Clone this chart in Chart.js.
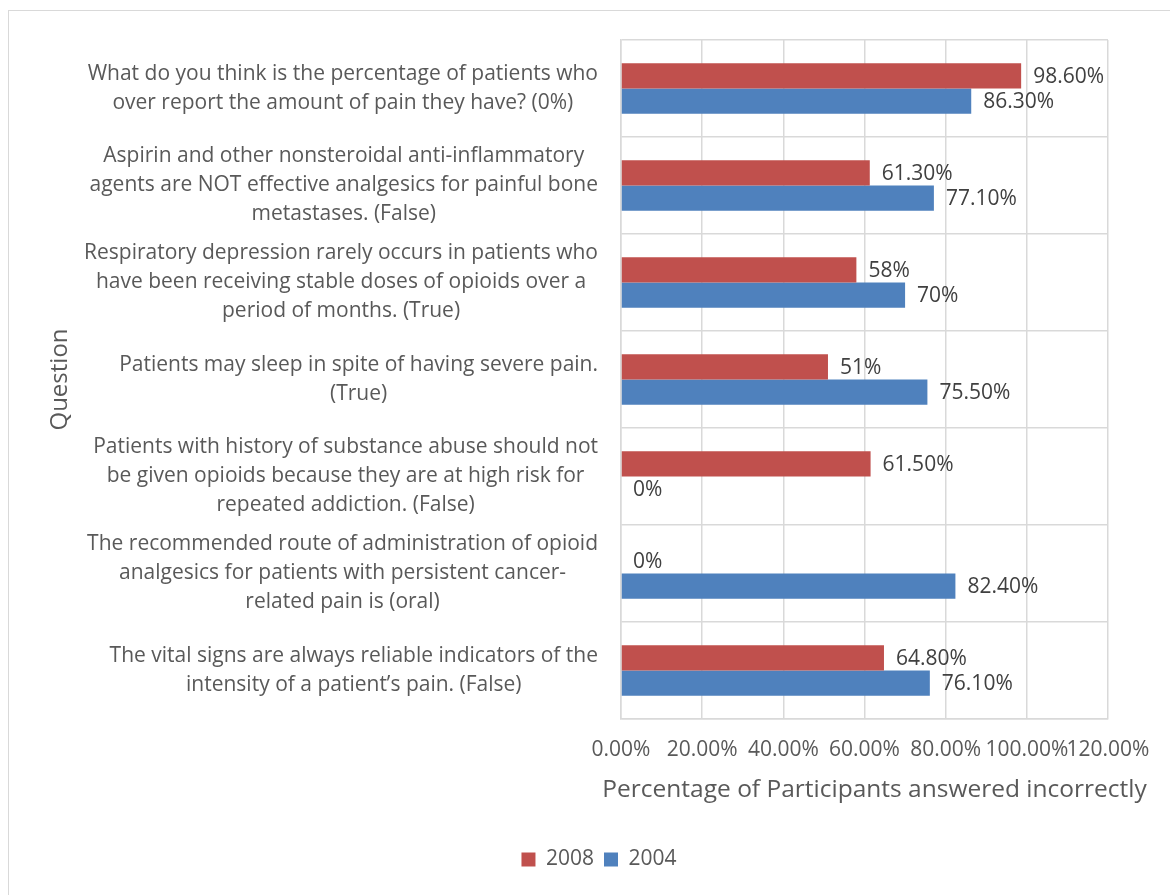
<!DOCTYPE html>
<html>
<head>
<meta charset="utf-8">
<script src="https://cdn.jsdelivr.net/npm/chart.js@4"></script>
<style>
  body { margin: 0; background: #fff; }
  #frame { position: absolute; left: 8px; top: 10px; width: 1170px; height: 895px; border: 1px solid #d9d9d9; }
  #chart { position: absolute; left: 0; top: 0; }
</style>
</head>
<body>
<div id="frame"></div>
<canvas id="chart" width="1170" height="895"></canvas>
<script>
// questions, one line per entry
const questions = [
  ["What do you think is the percentage of patients who", "over report the amount of pain they have? (0%)"],
  ["Aspirin and other nonsteroidal anti-inflammatory", "agents are NOT effective analgesics for painful bone", "metastases. (False)"],
  ["Respiratory depression rarely occurs in patients who", "have been receiving stable doses of opioids over a", "period of months. (True)"],
  ["Patients may sleep in spite of having severe pain.", "(True)"],
  ["Patients with history of substance abuse should not", "be given opioids because they are at high risk for", "repeated addiction. (False)"],
  ["The recommended route of administration of opioid", "analgesics for patients with persistent cancer-", "related pain is (oral)"],
  ["The vital signs are always reliable indicators of the", "intensity of a patient\u2019s pain. (False)"]
];
const values2008 = [98.6, 61.3, 58, 51, 61.5, 0, 64.8];
const values2004 = [86.3, 77.1, 70, 75.5, 0, 82.4, 76.1];
const xTicks = [0, 20, 40, 60, 80, 100, 120];
const xTitle = 'Percentage of Participants answered incorrectly';

Chart.defaults.font.family = '"Open Sans", sans-serif';
Chart.defaults.color = '#595959';

function fmtPct(v) {
  return Number.isInteger(v) ? v + '%' : v.toFixed(2) + '%';
}

// value labels, multi-line question labels, and the x title (wider than the plot)
const labelPlugin = {
  id: 'labels',
  afterDatasetsDraw(chart) {
    const ctx = chart.ctx;
    const area = chart.chartArea;
    ctx.save();
    ctx.font = '21px "Open Sans"';
    ctx.textBaseline = 'middle';
    ctx.textAlign = 'left';
    ctx.fillStyle = '#404040';
    chart.data.datasets.forEach((ds, di) => {
      chart.getDatasetMeta(di).data.forEach((bar, i) => {
        ctx.fillText(fmtPct(ds.data[i]), bar.x + 12, bar.y + 1);
      });
    });
    const ys = chart.scales.y;
    const right = area.left - 23;
    ctx.fillStyle = '#595959';
    ctx.textAlign = 'center';
    questions.forEach((lines, i) => {
      const yc = ys.getPixelForValue(i);
      const w = Math.max(...lines.map(l => ctx.measureText(l).width));
      lines.forEach((l, k) => {
        ctx.fillText(l, right - w / 2, yc + (k - (lines.length - 1) / 2) * 29);
      });
    });
    ctx.font = '24.5px "Open Sans"';
    ctx.fillText(xTitle, (area.left + area.right) / 2 + 10, area.bottom + 71);
    ctx.restore();
  }
};

new Chart(document.getElementById('chart'), {
  type: 'bar',
  data: {
    labels: questions,
    datasets: [
      { label: '2008', data: values2008, backgroundColor: '#C0504D' },
      { label: '2004', data: values2004, backgroundColor: '#4F81BD' }
    ]
  },
  options: {
    indexAxis: 'y',
    responsive: false,
    animation: false,
    categoryPercentage: 0.52,
    barPercentage: 1,
    layout: { padding: { top: 40, right: 62, left: 90, bottom: 15 } },
    plugins: {
      legend: {
        position: 'bottom',
        labels: { font: { size: 21 }, color: '#595959', boxWidth: 14, boxHeight: 14, padding: 10 }
      },
      tooltip: { enabled: false }
    },
    scales: {
      x: {
        min: 0, max: 120,
        afterBuildTicks: s => { s.ticks = xTicks.map(v => ({ value: v })); },
        ticks: { font: { size: 21 }, color: '#595959', padding: 18, maxRotation: 0, minRotation: 0, autoSkip: false,
                 callback: v => v.toFixed(2) + '%' },
        grid: { color: '#d9d9d9', lineWidth: 1.5, drawTicks: false },
        border: { color: '#d9d9d9', width: 1.5 },
        afterFit: s => { s.height = 120; }
      },
      y: {
        ticks: { display: false },
        grid: { color: '#d9d9d9', lineWidth: 1.5, drawTicks: false },
        border: { color: '#d9d9d9', width: 1.5 },
        title: { display: true, text: 'Question', font: { size: 24 }, color: '#595959', padding: { top: -44, bottom: 0 } },
        afterFit: s => { s.width = 531; }
      }
    }
  },
  plugins: [labelPlugin]
});
</script>
</body>
</html>
